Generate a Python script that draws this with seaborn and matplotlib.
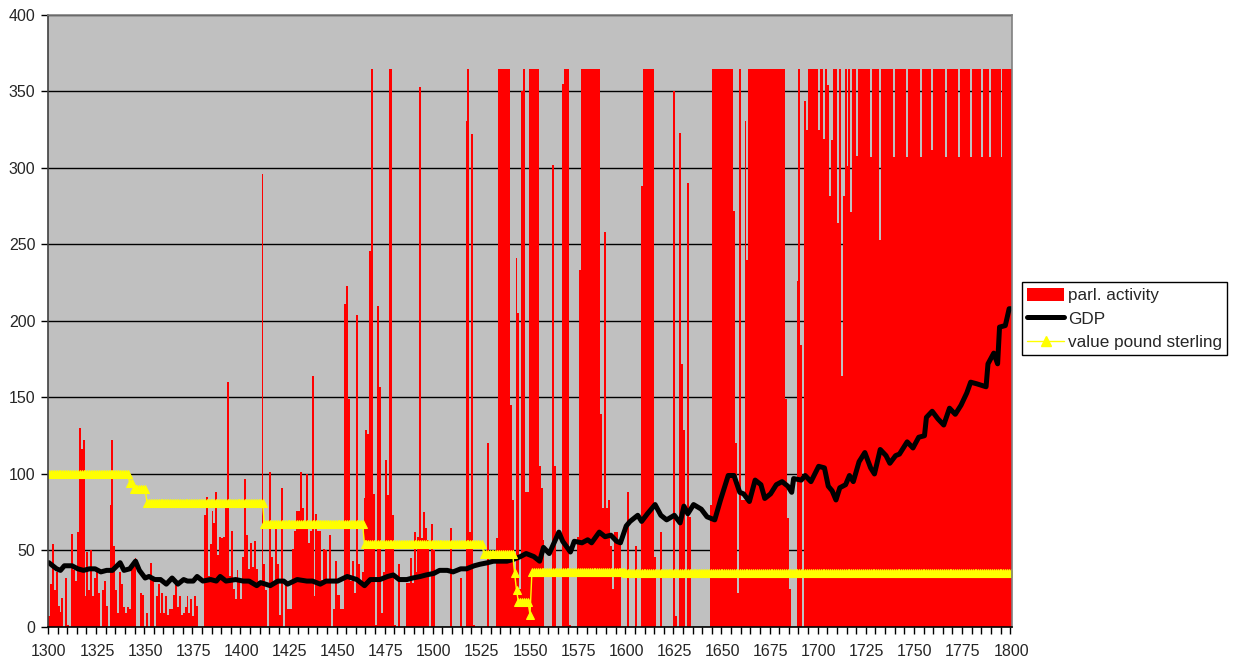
import numpy as np
import matplotlib
matplotlib.use("Agg")
import matplotlib.pyplot as plt
from matplotlib.lines import Line2D
from matplotlib.patches import Patch
import seaborn as sns

# years 1300..1800, one value per year (days of parliamentary activity)
years = list(range(1300, 1801))
parl_activity = [
    7, 28, 54, 24, 36, 14, 10, 19, 0, 32,
    1, 0, 61, 37, 30, 62, 130, 116, 122, 20,
    49, 24, 50, 20, 32, 37, 22, 0, 24, 30,
    14, 0, 80, 122, 53, 24, 9, 36, 28, 13,
    9, 13, 12, 38, 43, 45, 0, 0, 22, 21,
    0, 9, 0, 42, 30, 0, 20, 28, 9, 22,
    9, 20, 8, 12, 12, 21, 28, 13, 20, 8,
    9, 13, 20, 9, 18, 7, 20, 14, 0, 0,
    0, 73, 85, 33, 54, 76, 68, 88, 47, 59,
    58, 59, 80, 160, 33, 63, 25, 18, 37, 30,
    18, 46, 97, 60, 38, 55, 39, 56, 38, 30,
    28, 296, 41, 24, 0, 101, 46, 28, 64, 41,
    8, 91, 0, 28, 12, 12, 12, 51, 63, 76,
    76, 101, 78, 64, 100, 55, 63, 164, 20, 74,
    63, 63, 31, 51, 50, 31, 60, 0, 12, 43,
    21, 21, 12, 12, 211, 223, 149, 30, 43, 22,
    204, 41, 28, 36, 84, 129, 126, 246, 365, 87,
    1, 210, 157, 9, 36, 109, 86, 365, 365, 73,
    1, 0, 41, 0, 0, 0, 29, 29, 45, 29,
    62, 36, 59, 353, 58, 75, 65, 57, 0, 67,
    50, 0, 0, 0, 0, 0, 0, 0, 0, 65,
    0, 0, 0, 0, 32, 0, 0, 331, 365, 62,
    322, 1, 0, 0, 0, 0, 0, 0, 120, 0,
    0, 0, 0, 58, 365, 365, 365, 365, 365, 365,
    145, 83, 36, 241, 205, 25, 350, 365, 88, 88,
    365, 365, 365, 365, 365, 105, 91, 57, 0, 0,
    0, 0, 302, 105, 0, 0, 0, 355, 365, 365,
    365, 1, 0, 0, 0, 59, 233, 365, 365, 365,
    365, 365, 365, 365, 365, 365, 365, 139, 78, 258,
    78, 83, 53, 25, 62, 62, 57, 54, 0, 0,
    0, 88, 0, 0, 0, 53, 0, 0, 288, 365,
    365, 365, 365, 365, 365, 46, 0, 0, 62, 0,
    0, 0, 0, 0, 0, 350, 7, 0, 323, 172,
    129, 0, 290, 72, 0, 0, 0, 0, 0, 0,
    0, 0, 0, 0, 80, 365, 365, 365, 365, 365,
    365, 365, 365, 365, 365, 365, 272, 120, 22, 365,
    83, 83, 331, 240, 365, 365, 365, 365, 365, 365,
    365, 365, 365, 365, 365, 365, 365, 365, 365, 365,
    365, 365, 365, 149, 71, 25, 0, 0, 0, 226,
    365, 184, 0, 344, 325, 365, 365, 365, 365, 365,
    325, 365, 365, 319, 365, 354, 282, 318, 365, 365,
    264, 365, 164, 282, 365, 301, 365, 271, 365, 365,
    308, 365, 365, 365, 365, 365, 365, 307, 365, 365,
    365, 365, 253, 365, 365, 365, 365, 365, 365, 307,
    365, 365, 365, 365, 365, 365, 307, 365, 365, 365,
    365, 365, 365, 307, 365, 365, 365, 365, 365, 312,
    365, 365, 365, 365, 365, 365, 307, 365, 365, 365,
    365, 365, 365, 307, 365, 365, 365, 365, 365, 307,
    365, 365, 365, 365, 365, 307, 365, 365, 365, 307,
    365, 365, 365, 365, 365, 307, 365, 365, 365, 365,
    365,
]

# GDP index
gdp_years = [1300, 1304, 1306, 1308, 1312, 1315, 1318, 1321, 1324, 1327, 1330, 1333,
             1337, 1339, 1342, 1345, 1347, 1350, 1352, 1355, 1358, 1361, 1364, 1367,
             1370, 1372, 1375, 1377, 1380, 1384, 1387, 1389, 1392, 1397, 1401, 1404,
             1408, 1410, 1415, 1419, 1422, 1424, 1429, 1434, 1437, 1441, 1444, 1450,
             1455, 1460, 1464, 1467, 1472, 1476, 1479, 1482, 1486, 1489, 1493, 1496,
             1500, 1503, 1507, 1510, 1514, 1517, 1521, 1524, 1528, 1531, 1535, 1538,
             1541, 1545, 1548, 1552, 1555, 1557, 1560, 1565, 1567, 1571, 1573, 1577,
             1580, 1582, 1586, 1589, 1592, 1595, 1597, 1600, 1602, 1606, 1608, 1611,
             1615, 1618, 1621, 1625, 1628, 1630, 1632, 1635, 1639, 1642, 1646, 1649,
             1653, 1656, 1659, 1661, 1664, 1667, 1670, 1672, 1675, 1678, 1681, 1684,
             1686, 1687, 1691, 1693, 1696, 1700, 1703, 1705, 1707, 1709, 1711, 1714,
             1716, 1718, 1721, 1724, 1727, 1729, 1732, 1735, 1737, 1740, 1742, 1746,
             1749, 1752, 1755, 1756, 1759, 1762, 1765, 1768, 1771, 1774, 1777, 1779,
             1782, 1787, 1788, 1791, 1793, 1794, 1797, 1799, 1800]
gdp_values = [42, 38, 37, 40, 40, 38, 37, 38, 38, 36, 37, 37,
              42, 37, 38, 43, 37, 32, 33, 31, 31, 28, 32, 28,
              31, 30, 30, 33, 30, 31, 30, 33, 30, 31, 30, 30,
              27, 29, 27, 30, 30, 28, 31, 30, 30, 28, 30, 30,
              33, 31, 27, 31, 31, 33, 34, 31, 31, 32, 33, 34,
              35, 37, 37, 36, 38, 38, 40, 41, 42, 43, 43, 43,
              44, 46, 48, 46, 43, 52, 48, 62, 56, 49, 56, 55,
              57, 55, 62, 59, 60, 56, 55, 66, 69, 73, 69, 74,
              80, 73, 70, 73, 68, 79, 74, 80, 77, 72, 70, 83,
              99, 99, 88, 87, 82, 96, 93, 84, 87, 93, 95, 92,
              88, 97, 96, 99, 95, 105, 104, 92, 89, 83, 91, 93,
              99, 95, 108, 114, 104, 100, 116, 112, 107, 112, 113, 121,
              117, 124, 125, 137, 141, 136, 132, 143, 139, 145, 153, 160,
              159, 157, 172, 179, 172, 196, 197, 208, 208]

# value of the pound sterling: first year of each level and the level
pound_from = [1300, 1342, 1344, 1351, 1412, 1464, 1526, 1542, 1543, 1544, 1550, 1551, 1600]
pound_level = [100, 94, 90, 81, 67, 54, 48, 35, 24, 16, 8, 36, 35]

counts = np.diff(pound_from + [1801])
pound = np.repeat(pound_level, counts)

sns.set_style("white")
plt.rcParams['font.family'] = ['Liberation Sans', 'DejaVu Sans']
plt.rcParams['font.size'] = 11.5

fig = plt.figure(figsize=(12.33, 6.66), dpi=100)
ax = fig.add_axes([0.0389, 0.0586, 0.7819, 0.9189])
ax.set_facecolor('#c0c0c0')

sns.barplot(x=years, y=parl_activity, native_scale=True, width=1, color='#ff0000',
            saturation=1, errorbar=None, linewidth=0, ax=ax)
sns.lineplot(x=gdp_years, y=gdp_values, color='black', linewidth=3.6, legend=False, ax=ax)
sns.lineplot(x=years, y=pound, color='yellow', linewidth=1, marker='^', markersize=6,
             markeredgecolor='yellow', legend=False, ax=ax)

ax.set_xlim(1299.5, 1800.5)
ax.set_ylim(0, 400)
ax.set_yticks(range(0, 401, 50))
ax.set_xticks(range(1300, 1801, 25))
ax.set_xticks(np.arange(1299.5, 1801, 5), minor=True)
ax.tick_params(axis='x', which='major', length=0, pad=12, labelsize=11.5)
ax.tick_params(axis='x', which='minor', length=5, width=1, color='black', direction='out', bottom=True)
ax.tick_params(axis='y', length=5, width=1, color='black', direction='out', left=True, labelsize=11.5, pad=4)
ax.set_xlabel('')
ax.set_ylabel('')

ax.set_axisbelow(True)
ax.yaxis.grid(True, color='black', linewidth=1)
ax.xaxis.grid(False)
ax.spines['left'].set_color('#404040')
ax.spines['bottom'].set_color('black')
ax.spines['top'].set_color('#808080')
ax.spines['right'].set_color('#808080')
for s in ax.spines.values():
    s.set_linewidth(1.2)
    s.set_visible(True)

handles = [
    Patch(facecolor='#ff0000', edgecolor='none'),
    Line2D([0], [0], color='black', linewidth=3.6),
    Line2D([0], [0], color='yellow', linewidth=1, marker='^', markersize=7, markeredgecolor='yellow'),
]
leg = ax.legend(handles, ['parl. activity', 'GDP', 'value pound sterling'],
                loc='upper left', bbox_to_anchor=(1.01, 0.563), frameon=True,
                fancybox=False, framealpha=1, edgecolor='black', fontsize=12.3,
                handlelength=2.2, handleheight=0.85, labelspacing=0.45,
                borderpad=0.3, handletextpad=0.2, borderaxespad=0)
leg.get_frame().set_linewidth(1)

fig.savefig('out.png', dpi=100)
